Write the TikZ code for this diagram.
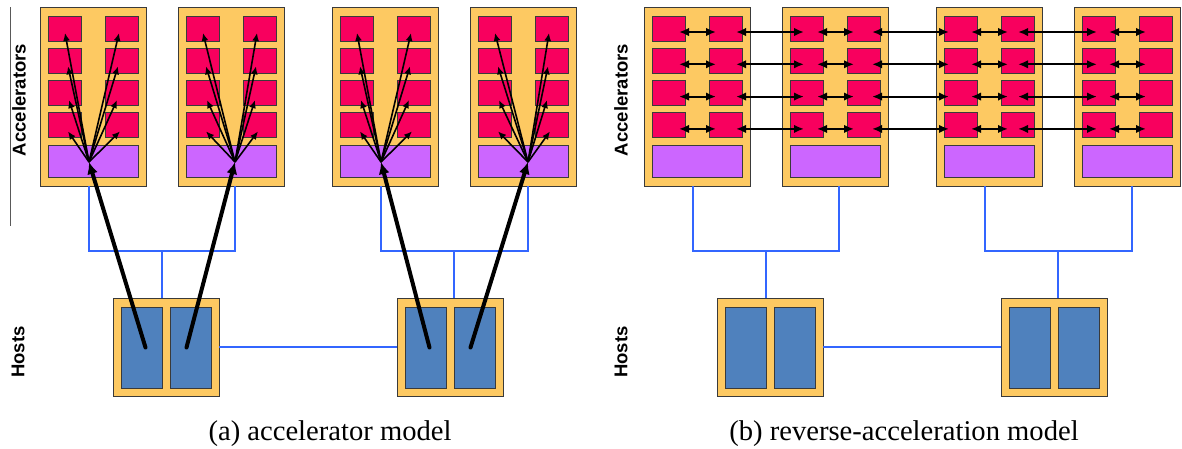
\documentclass[tikz,border=0pt]{standalone}
\usepackage{fontspec}
\setmainfont{Liberation Serif}
\setsansfont{Liberation Sans}
\usetikzlibrary{arrows.meta}
\definecolor{cardor}{HTML}{FDC962}
\definecolor{accred}{HTML}{F8005E}
\definecolor{ifpur}{HTML}{CC66FF}
\definecolor{cpublue}{HTML}{4F81BD}
\definecolor{netblue}{HTML}{3366FF}
\definecolor{edgegray}{HTML}{3A3A3A}
\begin{document}
\begin{tikzpicture}[x=1pt,y=-1pt,
  box/.style={draw=edgegray, line width=0.9pt, anchor=north west, inner sep=0pt, outer sep=0pt},
  card/.style={box, fill=cardor, minimum width=106pt, minimum height=179pt},
  hostcard/.style={box, fill=cardor, minimum width=106pt, minimum height=98pt},
  accel/.style={box, fill=accred, minimum width=33pt, minimum height=25pt},
  hostif/.style={box, fill=ifpur, minimum width=90pt, minimum height=32pt},
  cpu/.style={box, fill=cpublue, minimum width=41pt, minimum height=81pt},
  net/.style={draw=netblue, line width=2pt},
  fan/.style={draw=black, line width=1.6pt, -{Latex[length=8pt,width=7pt]}},
  bigarrow/.style={draw=black, line width=4pt, line cap=round, -{Latex[length=12pt,width=11pt]}},
  link/.style={draw=black, line width=2pt, {Latex[length=10pt,width=8.5pt]}-{Latex[length=10pt,width=8.5pt]}},
  vlabel/.style={rotate=90, font=\sffamily\bfseries\fontsize{18.5}{22}\selectfont, inner sep=0pt},
  caption/.style={anchor=base, inner sep=0pt, font=\fontsize{28.6}{34}\selectfont}
]
\useasboundingbox (0,0) rectangle (1182,448);

% rule left of the first label
\draw[black!65, line width=1pt] (10,7) -- (10,226);

\foreach \pp/\dx in {a/0,b/604}{
  % network junctions
  \coordinate (\pp J1) at (162+\dx,251);
  \coordinate (\pp J2) at (454+\dx,251);
  % accelerator cards
  \foreach \ii/\bx in {1/40,2/178,3/332,4/470}{
    \node[card] (\pp A\ii) at (\bx+\dx,7) {};
    \foreach \rr/\ry in {1/9,2/41.3,3/73.6,4/105.9}{
      \node[accel] (\pp A\ii L\rr) at (\bx+\dx+8,7+\ry) {};
      \node[accel] (\pp A\ii R\rr) at (\bx+\dx+65,7+\ry) {};
    }
    \node[hostif] (\pp A\ii P) at (\bx+\dx+8,145) {};
  }
  % hosts
  \foreach \jj/\hx in {1/113,2/397}{
    \node[hostcard] (\pp H\jj) at (\hx+\dx,298) {};
    \node[cpu] (\pp H\jj a) at (\hx+\dx+8,307) {};
    \node[cpu] (\pp H\jj b) at (\hx+\dx+57,307) {};
  }
  % network
  \draw[net] ([xshift=-4pt]\pp A1.south) |- (\pp J1) -| ([xshift=4pt]\pp A2.south);
  \draw[net] ([xshift=-4pt]\pp A3.south) |- (\pp J2) -| ([xshift=5pt]\pp A4.south);
  \draw[net] (\pp J1) -- (\pp J1 |- \pp H1.north);
  \draw[net] (\pp J2) -- (\pp J2 |- \pp H2.north);
  \draw[net] (\pp H1.east) -- (\pp H2.west);
}

% labels
\node[vlabel] (accA) at (19,100) {Accelerators};
\node[vlabel] (hostA) at (18,352) {Hosts};
\node[vlabel] (accB) at (621,100) {Accelerators};
\node[vlabel] (hostB) at (621,352) {Hosts};
\node[caption] (capA) at (330,440) {(a) accelerator model};
\node[caption] (capB) at (904,440) {(b) reverse-acceleration model};

% (a) fan-out arrows from the host interface
\coordinate (aS1) at (89,162);
\coordinate (aS2) at (235,162);
\coordinate (aS3) at (381,162);
\coordinate (aS4) at (528,162);
\foreach \ii in {1,2,3,4}{
  \foreach \rr/\lx/\rx/\ty in {1/0.5/-2.5/4.5,2/3.5/-3.5/5.5,3/4.5/-4.5/7,4/3.5/-1.5/6}{
    \draw[fan] (aS\ii) -- ([shift={(\lx,\ty)}]aA\ii L\rr.center);
    \draw[fan] (aS\ii) -- ([shift={(\rx,\ty)}]aA\ii R\rr.center);
  }
}
% (a) host to interface arrows
\draw[bigarrow] ([xshift=4pt]aH1a.center) -- (aS1);
\draw[bigarrow] ([xshift=-4pt]aH1b.center) -- (aS2);
\draw[bigarrow] ([xshift=4pt]aH2a.center) -- (aS3);
\draw[bigarrow] ([xshift=-4pt]aH2b.center) -- (aS4);

% (b) peer-to-peer arrows
\foreach \rr in {1,2,3,4}{
  \foreach \ii in {1,2,3,4}{
    \draw[link] ([shift={(-6,3.5)}]bA\ii L\rr.east) -- ([shift={(7,3.5)}]bA\ii R\rr.west);
  }
  \foreach \ii/\jj/\so/\ti in {1/2/-6/14,2/3/-8/5,3/4/-16/15}{
    \draw[link] ([shift={(\so,3.5)}]bA\ii R\rr.east) -- ([shift={(\ti,3.5)}]bA\jj L\rr.west);
  }
}
\end{tikzpicture}
\end{document}
